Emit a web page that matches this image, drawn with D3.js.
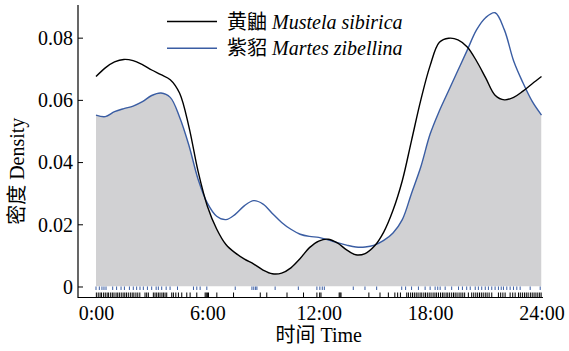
<!DOCTYPE html>
<html>
<head>
<meta charset="utf-8">
<script src="https://cdn.jsdelivr.net/npm/d3@7"></script>
<style>
  html, body { margin: 0; padding: 0; background: #fff; }
  svg { display: block; }
</style>
</head>
<body>
<svg id="chart" width="569" height="351"></svg>
<script>
// Kernel density of activity time (hours) for two species
const hours = [0, 0.5, 1, 1.5, 2, 2.5, 3, 3.5, 4, 4.5, 5, 5.5, 6, 6.5, 7, 7.5, 8, 8.5, 9, 9.5,
  10, 10.5, 11, 11.5, 12, 12.5, 13, 13.5, 14, 14.5, 15, 15.5, 16, 16.5, 17, 17.5, 18, 18.5, 19, 19.5,
  20, 20.5, 21, 21.5, 22, 22.5, 23, 23.5, 24];

// 黄鼬 Mustela sibirica
const mustelaDensity = [0.0675, 0.0703, 0.0722, 0.0730, 0.0726, 0.0713, 0.0696, 0.0681, 0.0665, 0.0622, 0.0515, 0.0370, 0.0258, 0.0185, 0.0135, 0.0108, 0.0088, 0.0072, 0.0053, 0.0041,
  0.0043, 0.0060, 0.0090, 0.0125, 0.0146, 0.0152, 0.0140, 0.0118, 0.0102, 0.0106, 0.0130, 0.0175, 0.0245, 0.0340, 0.0470, 0.0600, 0.0710, 0.0785, 0.0798, 0.0793,
  0.0770, 0.0725, 0.0670, 0.0615, 0.0600, 0.0608, 0.0628, 0.0652, 0.0675];

// 紫貂 Martes zibellina
const martesDensity = [0.0551, 0.0546, 0.0562, 0.0572, 0.0580, 0.0594, 0.0614, 0.0622, 0.0608, 0.0545, 0.0455, 0.0345, 0.0268, 0.0226, 0.0215, 0.0232, 0.0260, 0.0276, 0.0265, 0.0235,
  0.0206, 0.0184, 0.0168, 0.0161, 0.0158, 0.0150, 0.0141, 0.0133, 0.0127, 0.0127, 0.0133, 0.0148, 0.0172, 0.0215, 0.0300, 0.0385, 0.0490, 0.0565, 0.0630, 0.0695,
  0.0760, 0.0825, 0.0865, 0.0880, 0.0825, 0.0725, 0.0655, 0.0595, 0.0551];

// Recorded detection times (hours) shown as rugs
const mustelaRecords = [0.02, 0.12, 0.22, 0.3, 0.41, 0.5, 0.6, 0.68, 0.79, 0.88, 0.97, 1.08, 1.17, 1.26, 1.36, 1.46, 1.55, 1.64, 1.74, 1.85, 1.95, 2.04, 2.15, 2.25, 2.36,
  2.64, 2.73, 2.82, 3.09, 3.18, 3.27, 3.36, 3.45, 3.55, 3.63, 3.72, 3.81, 4.08, 4.17, 4.3, 4.44, 4.62, 4.89, 5.07, 5.43, 5.88, 5.94, 6.0, 6.06, 6.51, 7.41,
  8.85, 9.2, 10.29, 11.18, 11.9, 12.05, 12.12, 13.1, 13.15, 13.2, 14.7, 15.3, 15.75, 16.1, 16.25, 16.4, 16.74, 16.83, 16.95, 17.05, 17.15, 17.25, 17.35,
  17.46, 17.55, 17.66, 17.75, 17.85, 17.95, 18.05, 18.16, 18.26, 18.35, 18.45, 18.56, 18.66, 18.75, 18.86, 18.95, 19.05, 19.16, 19.26, 19.35, 19.45,
  19.56, 19.66, 19.76, 19.86, 20.06, 20.24, 20.35, 20.46, 20.56, 20.66, 20.76, 20.86, 20.97, 21.07, 21.18, 21.32, 21.68, 21.8, 21.92, 22.04, 22.31,
  22.45, 22.58, 22.76, 22.86, 22.97, 23.08, 23.18, 23.28, 23.4, 23.5, 23.6, 23.7, 23.8, 23.9, 23.98];

const martesRecords = [0.0, 0.18, 0.32, 0.43, 0.54, 0.9, 1.11, 1.35, 1.53, 1.8, 2.01, 2.19, 2.37, 2.55, 2.77, 3.0, 3.24, 3.36, 3.54, 3.78, 3.99, 4.39,
  5.25, 5.43, 5.61, 5.97, 7.5, 8.4, 8.5, 8.6, 8.67, 9.65, 10.9, 11.9, 12.06, 12.19, 12.3, 13.86, 14.49, 15.12, 16.47, 16.68, 17.0, 17.37, 17.73,
  18.0, 18.27, 18.41, 18.54, 18.81, 19.16, 19.53, 19.74, 19.97, 20.16, 20.43, 20.6, 20.78, 20.97, 21.14, 21.32, 21.5, 21.68, 21.83, 21.95,
  22.13, 22.31, 22.49, 22.67, 22.85, 23.39, 23.93];

const xTickValues = [0, 6, 12, 18, 24];
const xTickLabels = ["0:00", "6:00", "12:00", "18:00", "24:00"];
const yTickValues = [0, 0.02, 0.04, 0.06, 0.08];
const yTickLabels = ["0", "0.02", "0.04", "0.06", "0.08"];

const seriesNames = ["黄鼬", "紫貂"];
const seriesLatin = ["Mustela sibirica", "Martes zibellina"];
const seriesColors = ["#000000", "#3a5da3"];

const FONT = '"Liberation Serif", "Times New Roman", "Noto Sans CJK SC", serif';

const svg = d3.select("#chart");

const axisLeftX = 78, axisBottomY = 297.5, axisRightX = 543, axisTopY = 5;
const x = d3.scaleLinear().domain([0, 24]).range([96, 541.5]);
const y = d3.scaleLinear().domain([-0.00354, 0.0905]).range([axisBottomY, axisTopY]);

const mustela = hours.map((h, i) => [h, mustelaDensity[i]]);
const martes = hours.map((h, i) => [h, martesDensity[i]]);

const curve = d3.curveCatmullRom.alpha(0.5);
const line = d3.line().x(d => x(d[0])).y(d => y(d[1])).curve(curve);
const area = d3.area().x(d => x(d[0])).y0(y(0)).y1(d => y(d[1])).curve(curve);

// Overlap: area under one curve clipped to the area under the other
const defs = svg.append("defs");
defs.append("clipPath").attr("id", "underMartes")
  .append("path").attr("d", area(martes));

svg.append("path")
  .attr("d", area(mustela))
  .attr("fill", "#d1d1d3")
  .attr("clip-path", "url(#underMartes)");

// Rugs
svg.append("g").selectAll("line").data(martesRecords).join("line")
  .attr("x1", d => x(d)).attr("x2", d => x(d))
  .attr("y1", y(0)).attr("y2", y(0) + 3.5)
  .attr("stroke", seriesColors[1]).attr("stroke-width", 1);

svg.append("g").selectAll("line").data(mustelaRecords).join("line")
  .attr("x1", d => x(d)).attr("x2", d => x(d))
  .attr("y1", axisBottomY - 5).attr("y2", axisBottomY)
  .attr("stroke", seriesColors[0]).attr("stroke-width", 1);

// Density curves
svg.append("path").attr("d", line(martes))
  .attr("fill", "none").attr("stroke", seriesColors[1]).attr("stroke-width", 1.4);
svg.append("path").attr("d", line(mustela))
  .attr("fill", "none").attr("stroke", seriesColors[0]).attr("stroke-width", 1.4);

// Axes
const yAxis = d3.axisRight(y).tickValues(yTickValues).tickSize(5)
  .tickFormat((d, i) => yTickLabels[i]);
const yg = svg.append("g").attr("transform", `translate(${axisLeftX},0)`).call(yAxis)
  .attr("font-family", FONT).attr("font-size", 20);
yg.select(".domain").remove();
yg.selectAll(".tick line").attr("stroke", "#000").attr("stroke-width", 1);
yg.selectAll(".tick text")
  .attr("x", -5).attr("dy", "0.34em")
  .attr("text-anchor", "end")
  .attr("fill", "#000");

const xAxis = d3.axisTop(x).tickValues(xTickValues).tickSize(0)
  .tickFormat((d, i) => xTickLabels[i]);
const xg = svg.append("g").attr("transform", `translate(0,${axisBottomY})`).call(xAxis)
  .attr("font-family", FONT).attr("font-size", 20);
xg.select(".domain").remove();
xg.selectAll(".tick text")
  .attr("y", 22).attr("dy", 0)
  .attr("text-anchor", "middle")
  .attr("fill", "#000");

svg.append("line")
  .attr("x1", axisLeftX).attr("x2", axisLeftX)
  .attr("y1", axisTopY).attr("y2", axisBottomY + 0.5)
  .attr("stroke", "#000").attr("stroke-width", 1.2);
svg.append("line")
  .attr("x1", axisLeftX).attr("x2", axisRightX)
  .attr("y1", axisBottomY).attr("y2", axisBottomY)
  .attr("stroke", "#000").attr("stroke-width", 1.2);

// Axis titles
svg.append("text")
  .attr("transform", `translate(24,${(axisTopY + axisBottomY) / 2 + 20}) rotate(-90)`)
  .attr("text-anchor", "middle")
  .attr("font-family", FONT).attr("font-size", 20)
  .text("密度 Density");

svg.append("text")
  .attr("x", (x(0) + x(24)) / 2).attr("y", 342)
  .attr("text-anchor", "middle")
  .attr("font-family", FONT).attr("font-size", 20)
  .text("时间 Time");

// Legend
const legend = svg.append("g").attr("font-family", FONT).attr("font-size", 20);
seriesNames.forEach((name, i) => {
  const ly = 21.5 + i * 26.7;
  legend.append("line")
    .attr("x1", 167).attr("x2", 217).attr("y1", ly).attr("y2", ly)
    .attr("stroke", seriesColors[i]).attr("stroke-width", 1.4);
  const t = legend.append("text")
    .attr("x", 227).attr("y", ly + 7);
  t.append("tspan").text(name + " ");
  t.append("tspan").attr("font-style", "italic").text(seriesLatin[i]);
});
</script>
</body>
</html>
